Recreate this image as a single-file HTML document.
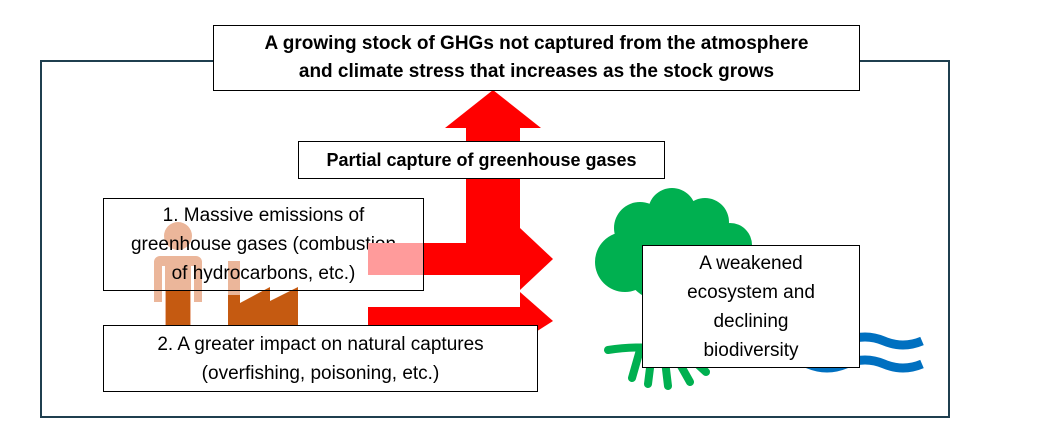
<!DOCTYPE html>
<html><head><style>
body{margin:0;width:1038px;height:432px;background:#fff;position:relative;overflow:hidden;font-family:"Liberation Sans",sans-serif}
.b{position:absolute;background:#fff;border:1px solid #000;box-sizing:border-box;display:flex;align-items:center;justify-content:center;text-align:center;color:#000}
</style></head><body>
<svg width="1038" height="432" style="position:absolute;left:0;top:0">
<rect x="41" y="61" width="908" height="356" fill="none" stroke="#1f3f4f" stroke-width="2"/>
<!-- person -->
<circle cx="178" cy="236" r="14" fill="#ebb69a"/>
<path d="M160 256 h36 a6 6 0 0 1 6 6 v40 h-8 v-36 h-3 v60 h-10 v-30 h-6 v30 h-10 v-60 h-3 v36 h-8 v-40 a6 6 0 0 1 6 -6z" fill="#ebb69a"/>
<path d="M166 290 h24 v36 h-24z" fill="#c55a11"/>
<!-- factory -->
<rect x="228" y="261" width="12" height="70" fill="#ebb69a"/>
<path d="M228 295 h12 v8 l30 -16 v14 l28 -14 v44 h-70z" fill="#c55a11"/>
<!-- tree -->
<g fill="#00b050">
<circle cx="625" cy="262" r="30"/><circle cx="640" cy="228" r="26"/><circle cx="672" cy="212" r="24"/><circle cx="705" cy="222" r="24"/><circle cx="730" cy="245" r="22"/><circle cx="660" cy="265" r="35"/><circle cx="700" cy="255" r="30"/>
</g>
<g stroke="#00b050" stroke-width="8" stroke-linecap="round" fill="none">
<path d="M608 350 Q640 345 670 350"/><path d="M640 350 L632 378"/><path d="M652 352 L648 384"/><path d="M664 352 L668 386"/><path d="M672 350 L690 382"/><path d="M680 348 L706 372"/>
</g>
<!-- waves -->
<g stroke="#0070c0" stroke-width="9" fill="none">
<path d="M770 364 q19 -8 38 0 t38 0 t38 0 t38 0"/><path d="M846 341 q19 -8 38 0 t38 0"/>
</g>
<!-- arrows -->
<g fill="#ff0000">
<rect x="466" y="125" width="54" height="125"/>
<path d="M445 128 L493 90 L541 128z"/>
<rect x="368" y="243" width="154" height="32"/>
<path d="M520 228 L553 259 L520 290z"/>
<rect x="368" y="307" width="154" height="28"/>
<path d="M520 292 L553 321 L520 342z"/>
</g>
</svg>
<div class="b" style="left:213px;top:25px;width:647px;height:66px;font-weight:bold;font-size:19px;line-height:28px">A growing stock of GHGs not captured from the atmosphere<br>and climate stress that increases as the stock grows</div>
<div class="b" style="left:298px;top:141px;width:367px;height:38px;font-weight:bold;font-size:18px">Partial capture of greenhouse gases</div>
<div class="b" style="left:103px;top:198px;width:321px;height:93px;font-size:19px;line-height:29px;background:transparent">1. Massive emissions of<br>greenhouse gases (combustion<br>of hydrocarbons, etc.)</div>
<div style="position:absolute;left:368px;top:243px;width:55px;height:32px;background:#ff9b9b"></div>
<div class="b" style="left:103px;top:325px;width:435px;height:67px;font-size:19px;line-height:29px">2. A greater impact on natural captures<br>(overfishing, poisoning, etc.)</div>
<div class="b" style="left:642px;top:245px;width:218px;height:123px;font-size:19px;line-height:29px">A weakened<br>ecosystem and<br>declining<br>biodiversity</div>
</body></html>
